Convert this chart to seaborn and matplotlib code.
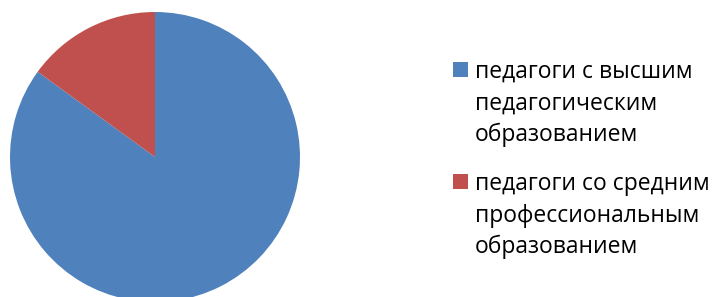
import matplotlib
matplotlib.use("Agg")
import matplotlib.pyplot as plt
from matplotlib.patches import Rectangle
import seaborn as sns

categories = [
    "педагоги с высшим\nпедагогическим\nобразованием",
    "педагоги со средним\nпрофессиональным\nобразованием",
]
shares = [85, 15]
colors = ["#4F81BD", "#C0504D"]

sns.set_theme(style="white")
plt.rcParams["font.family"] = ["Open Sans", "DejaVu Sans"]

W, H = 715, 297
fig = plt.figure(figsize=(W / 100, H / 100), dpi=100)
ax = fig.add_axes([10 / W, -5 / H, 290 / W, 290 / H])
wedges, _ = ax.pie(
    shares,
    colors=sns.color_palette(colors),
    startangle=90,
    counterclock=False,
    radius=1,
    wedgeprops={"linewidth": 0},
)
ax.set_xlim(-1, 1)
ax.set_ylim(-1, 1)
ax.set_aspect("equal")
ax.axis("off")

# legend drawn by hand so the line spacing matches the original
first_baseline = 78
line_step = 31.5
entry_step = 112
for i, (label, wedge) in enumerate(zip(categories, wedges)):
    base = first_baseline + i * entry_step
    fig.patches.append(Rectangle(
        (453 / W, 1 - (base - 1) / H), 15 / W, 15 / H,
        transform=fig.transFigure, facecolor=wedge.get_facecolor(),
        edgecolor="none",
    ))
    for j, line in enumerate(label.split("\n")):
        fig.text(475 / W, 1 - (base + j * line_step) / H, line,
                 fontsize=16.5, color="black", va="baseline", ha="left")

fig.savefig("out.png", dpi=100)
